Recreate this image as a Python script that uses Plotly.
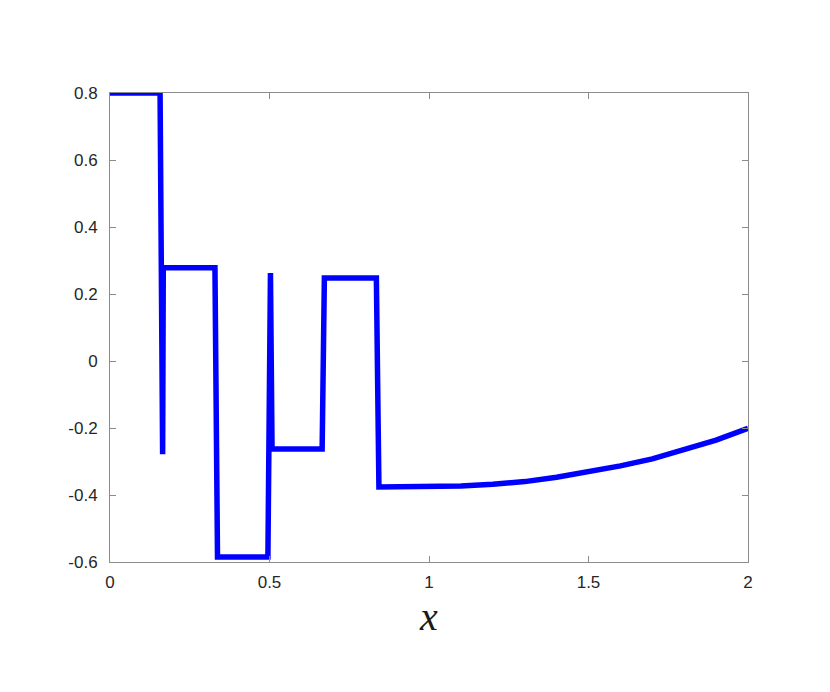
import plotly.graph_objects as go

# points
x_vals = [0.0, 0.157, 0.165, 0.167, 0.329, 0.337, 0.495, 0.503, 0.508,
          0.665, 0.672, 0.835, 0.843, 0.9, 1.0, 1.1, 1.2, 1.3, 1.4, 1.5,
          1.6, 1.7, 1.8, 1.9, 2.0]
y_vals = [0.8, 0.8, -0.278, 0.278, 0.278, -0.585, -0.585, 0.263, -0.263,
          -0.263, 0.248, 0.248, -0.376, -0.376, -0.375, -0.373, -0.368,
          -0.360, -0.347, -0.332, -0.313, -0.292, -0.266, -0.236, -0.201]

x_ticks = [0, 0.5, 1, 1.5, 2]
x_labels = ["0", "0.5", "1", "1.5", "2"]
y_ticks = [-0.6, -0.4, -0.2, 0, 0.2, 0.4, 0.6, 0.8]
y_labels = ["-0.6", "-0.4", "-0.2", "0", "0.2", "0.4", "0.6", "0.8"]

fig = go.Figure()
fig.add_trace(go.Scatter(
    x=x_vals, y=y_vals, mode="lines",
    line=dict(color="#0000ff", width=5.5, shape="linear"),
    cliponaxis=False,
    hoverinfo="skip",
))

axis_style = dict(
    showline=True, mirror="ticks", linecolor="#8c8c8c", linewidth=1,
    ticks="inside", ticklen=6, tickcolor="#8c8c8c",
    showgrid=False, zeroline=False,
    tickfont=dict(family="Liberation Sans, Arial", size=17, color="#262626"),
)

fig.update_xaxes(
    range=[0, 2], tickvals=x_ticks, ticktext=x_labels,
    ticklabelstandoff=5,
    title=dict(text="<i>x</i>", standoff=10,
               font=dict(family="Liberation Serif, Times New Roman, serif",
                         size=40, color="#1a1a1a")),
    **axis_style,
)
fig.update_yaxes(
    range=[-0.6, 0.8], tickvals=y_ticks, ticktext=y_labels,
    ticklabelstandoff=8,
    **axis_style,
)

# page body adds 8px around the figure, so margins are trimmed by 8
fig.update_layout(
    width=830, height=692,
    margin=dict(l=102, r=90, t=85, b=138),
    plot_bgcolor="white", paper_bgcolor="white",
    showlegend=False,
)

fig.write_html("out.html")
